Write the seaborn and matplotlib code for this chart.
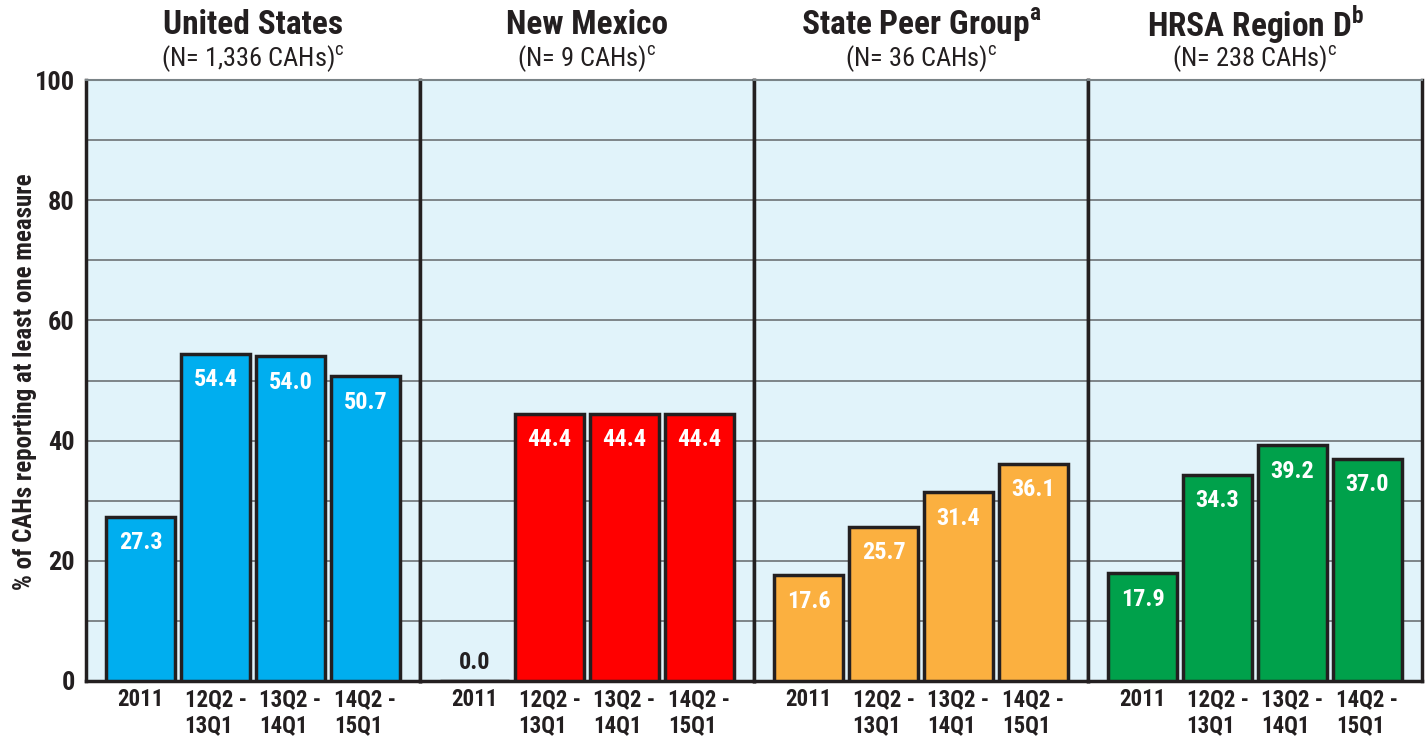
import matplotlib
matplotlib.use("Agg")
import matplotlib.pyplot as plt
import seaborn as sns
import pandas as pd
from matplotlib import font_manager

sns.set_theme(style="white")
names = {f.name for f in font_manager.fontManager.ttflist}
cond = "DejaVu Sans"
for cand in ["Roboto Condensed", "Liberation Sans Narrow", "Liberation Sans", "Roboto"]:
    if cand in names:
        cond = cand
        break
plt.rcParams['font.family'] = [cond, 'DejaVu Sans']
plt.rcParams['mathtext.fontset'] = 'custom'
plt.rcParams['mathtext.rm'] = cond
plt.rcParams['mathtext.bf'] = cond + ':bold'

periods = ["2011", "12Q2 -\n13Q1", "13Q2 -\n14Q1", "14Q2 -\n15Q1"]
groups = ["United States", "New Mexico", "State Peer Group", "HRSA Region D"]
group_sup = ["", "", "a", "b"]
subtitles = ["(N= 1,336 CAHs)", "(N= 9 CAHs)", "(N= 36 CAHs)", "(N= 238 CAHs)"]
us_vals = [27.3, 54.4, 54.0, 50.7]
nm_vals = [0.0, 44.4, 44.4, 44.4]
peer_vals = [17.6, 25.7, 31.4, 36.1]
hrsa_vals = [17.9, 34.3, 39.2, 37.0]
colors = ["#00aeef", "#ff0000", "#fbb040", "#00a14b"]
y_label = "% of CAHs reporting at least one measure"

all_vals = [us_vals, nm_vals, peer_vals, hrsa_vals]

W, H = 1426, 740
fig = plt.figure(figsize=(W / 100, H / 100), dpi=100)
left, right = 86 / W, 1422 / W
top, bottom = 1 - 80 / H, 1 - 681 / H
gs = fig.add_gridspec(1, 4, left=left, right=right, top=top, bottom=bottom, wspace=0)
dark = "#231f20"
bg = "#e1f3fa"

for i, (vals, g) in enumerate(zip(all_vals, groups)):
    ax = fig.add_subplot(gs[0, i])
    ax.set_facecolor(bg)
    df = pd.DataFrame({"period": periods, "value": vals})
    sns.barplot(data=df, x="period", y="value", color=colors[i], ax=ax,
                width=0.92, edgecolor=dark, linewidth=2.5, saturation=1, zorder=3)
    ax.set_xlim(-0.727, 3.727)
    ax.set_ylim(0, 100)
    ax.set_yticks(range(0, 101, 10))
    ax.grid(axis="y", color="#6d7275", linewidth=1.2, zorder=0)
    ax.set_axisbelow(True)
    ax.set_xlabel("")
    ax.set_ylabel("")
    ax.tick_params(axis="x", length=0, pad=5, labelsize=16.5)
    for lab in ax.get_xticklabels():
        lab.set_fontweight("bold")
        lab.set_color(dark)
        lab.set_multialignment("left")
        lab.set_linespacing(1.15)
    for sname, sp in ax.spines.items():
        sp.set_visible(True)
        sp.set_color(dark)
        sp.set_linewidth(2.5)
    ax.spines["top"].set_color("#7a8387")
    ax.spines["top"].set_linewidth(1.5)
    if i == 0:
        ax.set_yticklabels([str(v) if v % 20 == 0 else "" for v in range(0, 101, 10)])
        ax.tick_params(axis="y", length=0, pad=8, labelsize=19)
        for lab in ax.get_yticklabels():
            lab.set_fontweight("bold")
            lab.set_color(dark)
    else:
        ax.tick_params(axis="y", left=False, labelleft=False)
    # value labels
    for j, v in enumerate(vals):
        if v > 5:
            ax.text(j, v - 4.3, f"{v:.1f}", ha="center", va="center", color="white",
                    fontsize=17.5, fontweight="bold", zorder=5)
        else:
            ax.text(j, v + 3.0, f"{v:.1f}", ha="center", va="center", color=dark,
                    fontsize=17.5, fontweight="bold", zorder=5)
    # titles
    cx = 0.5
    sup = group_sup[i]
    title = g + (r"$^{\mathbf{" + sup + "}}$" if sup else "")
    ax.text(cx, 1 + (80 - 25) / 601, title, transform=ax.transAxes, ha="center", va="center",
            fontsize=24, fontweight="bold", color=dark)
    ax.text(cx, 1 + (80 - 59) / 601, subtitles[i] + r"$^{\mathrm{c}}$", transform=ax.transAxes,
            ha="center", va="center", fontsize=19, color=dark)

fig.text(25 / W, 1 - 382 / H, y_label, rotation=90, ha="center", va="center",
         fontsize=18, fontweight="bold", color=dark)

fig.savefig("out.png", dpi=100)
